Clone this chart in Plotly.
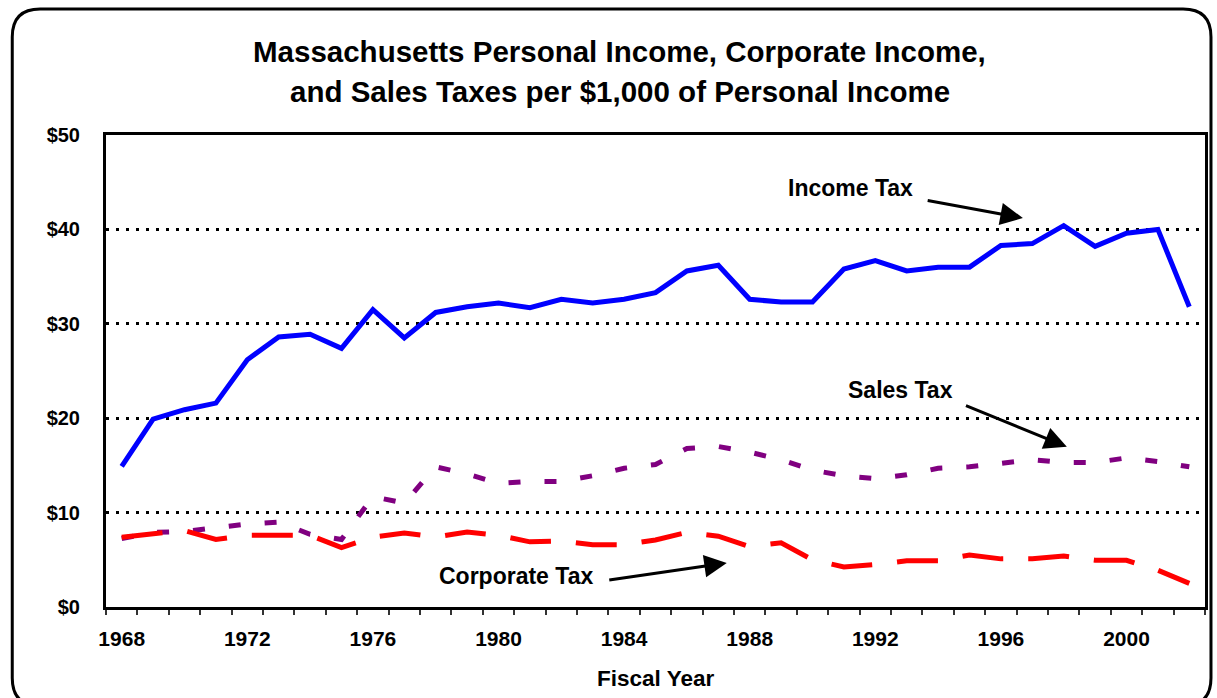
import plotly.graph_objects as go

years = list(range(1968, 2003))
income_tax = [14.9, 19.9, 20.9, 21.6, 26.2, 28.6, 28.9, 27.4, 31.5, 28.5,
              31.2, 31.8, 32.2, 31.7, 32.6, 32.2, 32.6, 33.3, 35.6, 36.2,
              32.6, 32.3, 32.3, 35.8, 36.7, 35.6, 36.0, 36.0, 38.3, 38.5,
              40.4, 38.2, 39.6, 40.0, 31.8]
sales_tax = [7.25, 7.9, 8.0, 8.4, 8.8, 9.0, 7.7, 7.15, 11.7, 11.0,
             14.85, 14.1, 13.1, 13.3, 13.3, 13.9, 14.7, 15.1, 16.8, 17.0,
             16.4, 15.6, 14.5, 13.9, 13.6, 14.0, 14.7, 14.85, 15.2, 15.6,
             15.3, 15.3, 15.8, 15.4, 14.85]
corporate_tax = [7.4, 7.7, 8.1, 7.15, 7.6, 7.6, 7.6, 6.3, 7.4, 7.85,
                 7.4, 7.95, 7.6, 6.9, 7.0, 6.6, 6.6, 7.1, 7.9, 7.5,
                 6.4, 6.8, 5.0, 4.25, 4.5, 4.9, 4.9, 5.5, 5.1, 5.1,
                 5.4, 4.95, 4.95, 3.9, 2.5]
x_tick_labels = [1968, 1972, 1976, 1980, 1984, 1988, 1992, 1996, 2000]
y_tick_vals = [0, 10, 20, 30, 40, 50]
y_tick_text = ["$0", "$10", "$20", "$30", "$40", "$50"]

W, H = 1217, 698
L, R, T, B = 106, 1208, 135, 607
FONT = "Liberation Sans, Arial, sans-serif"


def px(x):
    return (x - L) / (R - L)


def py(y):
    return (B - y) / (B - T)


fig = go.Figure()
fig.add_trace(go.Scatter(x=years, y=income_tax, mode="lines", name="Income Tax",
                         line=dict(color="#0000FF", width=5)))
fig.add_trace(go.Scatter(x=years, y=sales_tax, mode="lines", name="Sales Tax",
                         line=dict(color="#800080", width=5, dash="12px,24px")))
fig.add_trace(go.Scatter(x=years, y=corporate_tax, mode="lines", name="Corporate Tax",
                         line=dict(color="#FF0000", width=5, dash="41px,25px")))

# outer rounded frame
bl, br, bt, bb, rad = 12, 1214, 9, 706, 28
path = (f"M {px(bl+rad)},{py(bt)} L {px(br-rad)},{py(bt)} Q {px(br)},{py(bt)} {px(br)},{py(bt+rad)} "
        f"L {px(br)},{py(bb-rad)} Q {px(br)},{py(bb)} {px(br-rad)},{py(bb)} "
        f"L {px(bl+rad)},{py(bb)} Q {px(bl)},{py(bb)} {px(bl)},{py(bb-rad)} "
        f"L {px(bl)},{py(bt+rad)} Q {px(bl)},{py(bt)} {px(bl+rad)},{py(bt)} Z")
fig.add_shape(type="path", path=path, xref="paper", yref="paper",
              line=dict(color="black", width=3), layer="below")

ann = []
# title lines
ann.append(dict(text="<b>Massachusetts Personal Income, Corporate Income,</b>",
                x=px(621), y=py(52), xref="paper", yref="paper", showarrow=False,
                xanchor="center", yanchor="middle", font=dict(size=29.5, color="black", family=FONT)))
ann.append(dict(text="<b>and Sales Taxes per $1,000 of Personal Income</b>",
                x=px(621), y=py(92), xref="paper", yref="paper", showarrow=False,
                xanchor="center", yanchor="middle", font=dict(size=29.5, color="black", family=FONT)))
ann.append(dict(text="<b>Fiscal Year</b>", x=px(657), y=py(678), xref="paper", yref="paper",
                showarrow=False, xanchor="center", yanchor="middle",
                font=dict(size=22.5, color="black", family=FONT)))
# labels
for txt, x, y in [("Income Tax", 1991.2, 44.4), ("Sales Tax", 1992.8, 23.0),
                  ("Corporate Tax", 1980.56, 3.26)]:
    ann.append(dict(text=f"<b>{txt}</b>", x=x, y=y, xref="x", yref="y", showarrow=False,
                    xanchor="center", yanchor="middle",
                    font=dict(size=23, color="black", family=FONT)))
# arrows
for (hx, hy, tx, ty) in [(1996.7, 41.2, 1993.62, 43.1), (1998.1, 16.97, 1994.84, 21.39),
                         (1987.27, 4.67, 1983.48, 2.83)]:
    ann.append(dict(text="", x=hx, y=hy, ax=tx, ay=ty, xref="x", yref="y", axref="x", ayref="y",
                    showarrow=True, arrowhead=2, arrowsize=1.5, arrowwidth=3, arrowcolor="black",
                    standoff=0, startstandoff=0))

fig.update_layout(
    width=W, height=H,
    margin=dict(l=L, r=W - R, t=T, b=H - B),
    paper_bgcolor="white", plot_bgcolor="white",
    showlegend=False,
    annotations=ann,
    font=dict(family=FONT, color="black"),
    xaxis=dict(range=[1967.5, 2002.5], tickmode="array", tickvals=x_tick_labels,
               ticktext=[f"<b>{v}</b>" for v in x_tick_labels], ticks="",
               ticklabelstandoff=11, tickfont=dict(size=21, family=FONT, color="black"),
               showgrid=False, zeroline=False, showline=True, linewidth=3, linecolor="black",
               mirror=True,
               minor=dict(ticks="outside", ticklen=5, tickwidth=1.5, tickcolor="#333333",
                          tick0=1967.5, dtick=1, showgrid=False)),
    yaxis=dict(range=[0, 50], tickmode="array", tickvals=y_tick_vals,
               ticktext=[f"<b>{t}</b>" for t in y_tick_text], ticks="",
               ticklabelstandoff=19, tickfont=dict(size=20, family=FONT, color="black"),
               showgrid=True, gridcolor="black", gridwidth=2.5, griddash="3px,7px",
               zeroline=False, showline=True, linewidth=3, linecolor="black", mirror=True),
)

fig.write_html("out.html", config={"displayModeBar": False},
               post_script="document.body.style.margin='0px';document.body.style.overflow='hidden';")
